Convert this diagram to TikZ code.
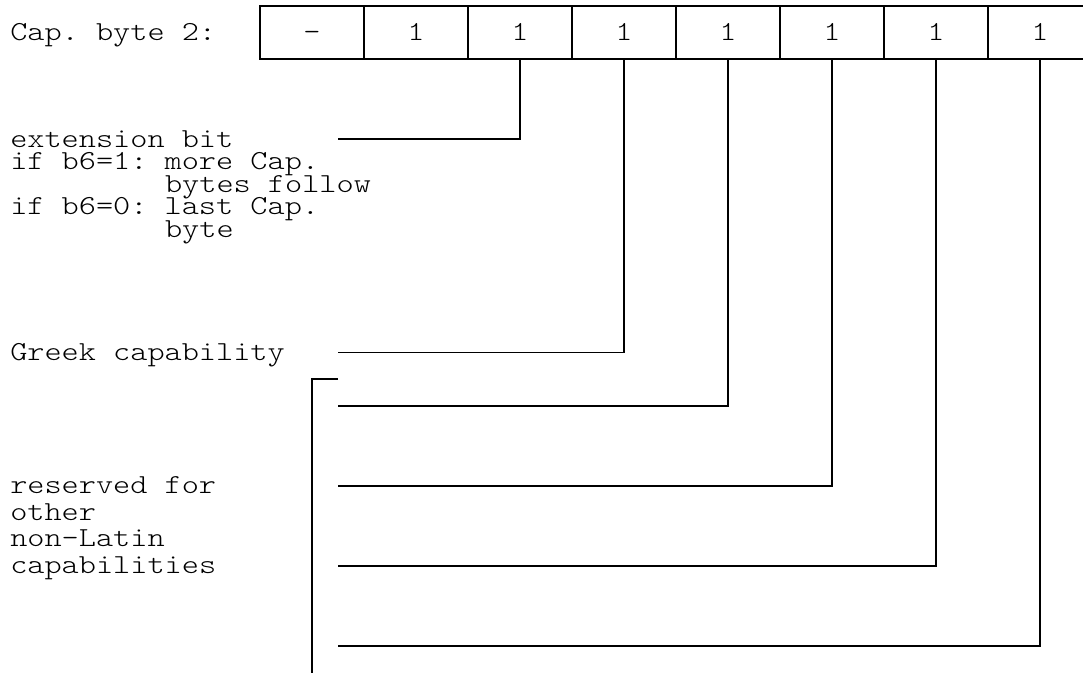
\documentclass[tikz,border=0pt]{standalone}
\usepackage{fontspec}
\setmonofont[FakeStretch=1.19]{lmmonolt10-regular.otf}
\begin{document}
\begin{tikzpicture}[x=0.75pt,y=-0.75pt,
  txt/.style={font=\ttfamily\fontsize{20.6pt}{16.8pt}\selectfont, inner sep=0pt, anchor=base west},
  cell/.style={draw, line width=1.4pt, minimum width=78pt, minimum height=39.75pt, inner sep=0pt,
               text height=11.25pt, text depth=0pt,
               font=\ttfamily\fontsize{20.6pt}{16.8pt}\selectfont},
  conn/.style={line width=1.4pt}]
\useasboundingbox (0,0) rectangle (1083,672);
\clip (0,0) rectangle (1083,672);
% title
\node[txt] (title) at (10,40) {Cap. byte 2:};
% cells
\node[cell] (c0) at (312,32.5) {-};
\node[cell] (c1) at (416,32.5) {1};
\node[cell] (c2) at (520,32.5) {1};
\node[cell] (c3) at (624,32.5) {1};
\node[cell] (c4) at (728,32.5) {1};
\node[cell] (c5) at (832,32.5) {1};
\node[cell] (c6) at (936,32.5) {1};
\node[cell] (c7) at (1040,32.5) {1};
% connector ends
\coordinate (e2) at (338,139);
\coordinate (e3) at (338,352.5);
\coordinate (e4) at (338,406);
\coordinate (e5) at (338,486);
\coordinate (e6) at (338,566);
\coordinate (e7) at (338,646);
\draw[conn] (c2.south) |- (e2);
\draw[conn] (c3.south) |- (e3);
\draw[conn] (c4.south) |- (e4);
\draw[conn] (c5.south) |- (e5);
\draw[conn] (c6.south) |- (e6);
\draw[conn] (c7.south) |- (e7);
% bracket
\coordinate (bt) at (338,379);
\coordinate (bb) at (312,690);
\draw[conn] (bt) -| (bb);
% texts
\node[txt] (x1) at (10,147) {extension bit};
\node[txt] (x2) at (10,169.5) {if b6=1: more Cap.};
\node[txt] (x3) at (164.8,192) {bytes follow};
\node[txt] (x4) at (10,214.5) {if b6=0: last Cap.};
\node[txt] (x5) at (164.8,237) {byte};
\node[txt] (gr) at (10,360) {Greek capability};
\node[txt] (r1) at (10,493) {reserved for};
\node[txt] (r2) at (10,520) {other};
\node[txt] (r3) at (10,546.5) {non-Latin};
\node[txt] (r4) at (10,573) {capabilities};
\end{tikzpicture}
\end{document}
